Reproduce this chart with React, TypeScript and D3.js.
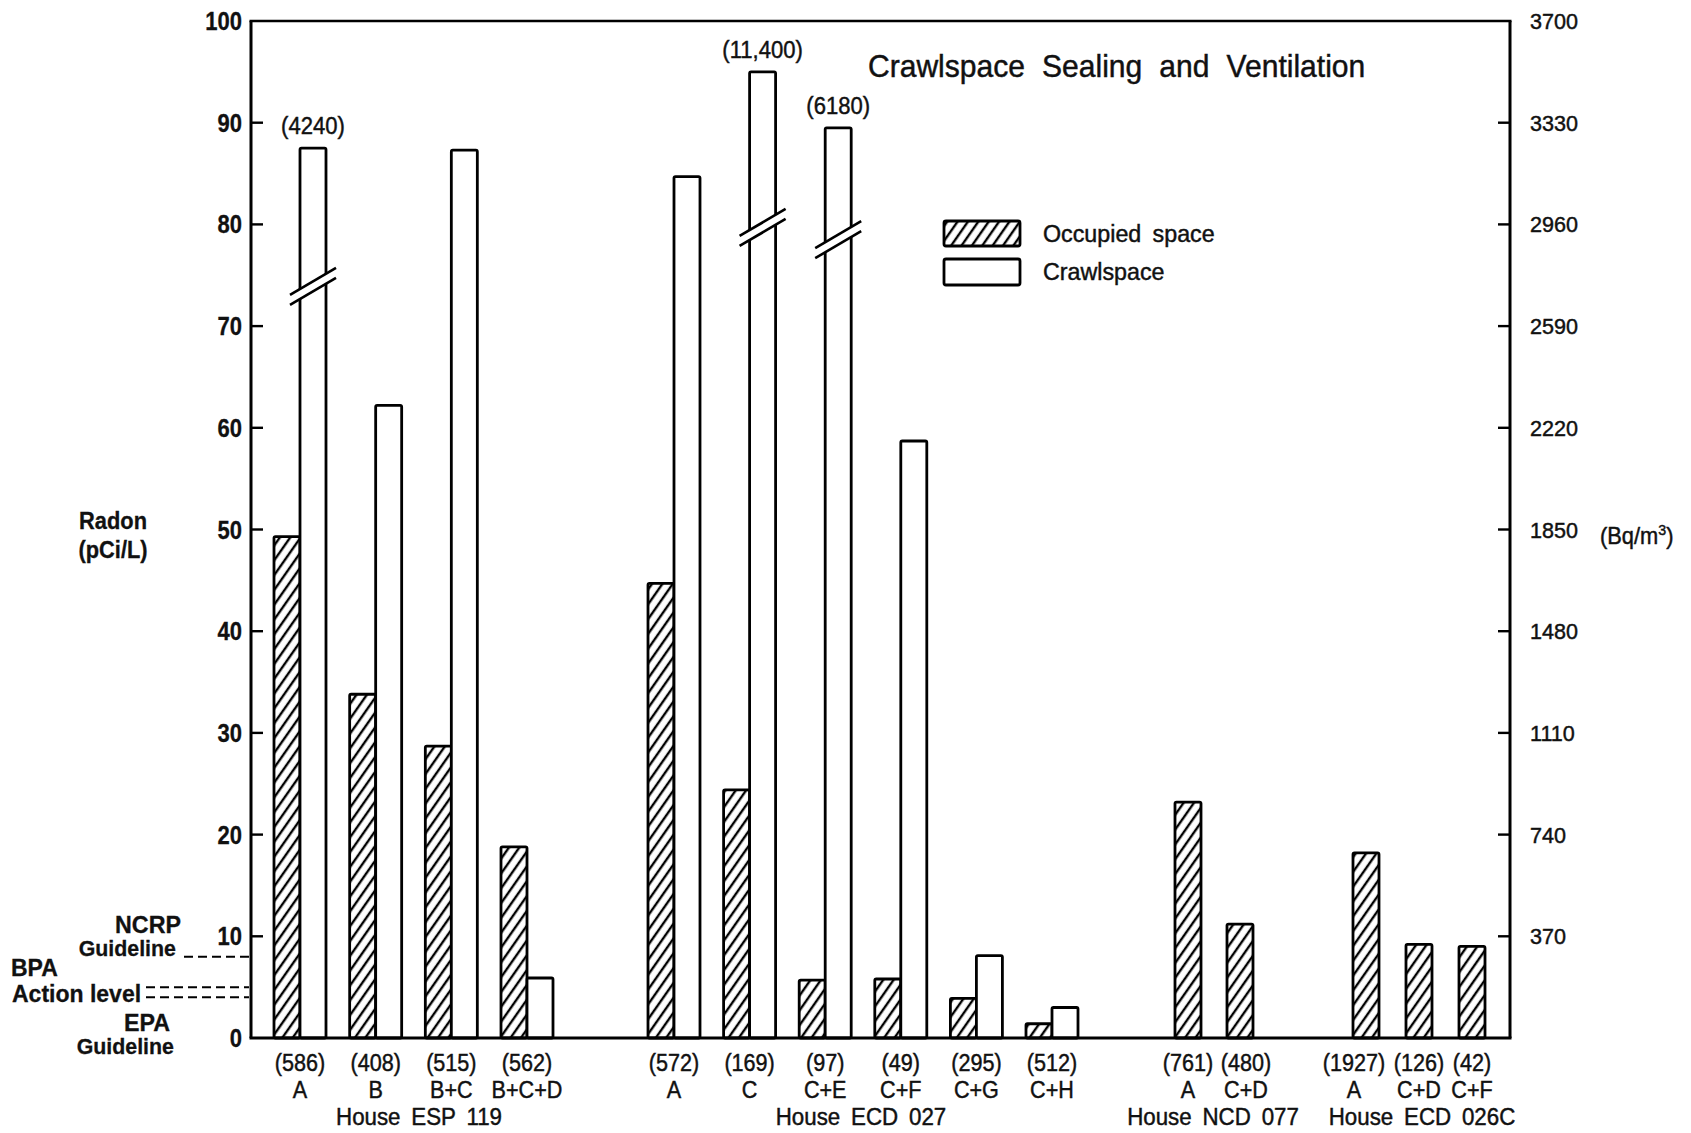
import React from "react";
import * as d3 from "d3";

// ---------- DATA ----------
const groupNames = ["House ESP 119", "House ECD 027", "House NCD 077", "House ECD 026C"];

const espCodes = ["(586)", "(408)", "(515)", "(562)"];
const espTreat = ["A", "B", "B+C", "B+C+D"];
const espOccupied = [49.3, 33.8, 28.7, 18.8];
const espCrawl = [87.5, 62.2, 87.3, 5.9];

const ecd027Codes = ["(572)", "(169)", "(97)", "(49)", "(295)", "(512)"];
const ecd027Treat = ["A", "C", "C+E", "C+F", "C+G", "C+H"];
const ecd027Occupied = [44.7, 24.4, 5.7, 5.8, 3.9, 1.4];
const ecd027Crawl = [84.7, 95.0, 89.5, 58.7, 8.1, 3.0];

const ncdCodes = ["(761)", "(480)"];
const ncdTreat = ["A", "C+D"];
const ncdOccupied = [23.2, 11.2];

const ecd026Codes = ["(1927)", "(126)", "(42)"];
const ecd026Treat = ["A", "C+D", "C+F"];
const ecd026Occupied = [18.2, 9.2, 9.0];

// crawlspace bars drawn with a scale break, actual value in Bq/m3 shown above
const brokenGroups = ["House ESP 119", "House ECD 027", "House ECD 027"];
const brokenTreat = ["A", "C", "C+E"];
const brokenActual = ["(4240)", "(11,400)", "(6180)"];
const brokenAt = [73.9, 79.7, 78.5];

const leftTicks = [0, 10, 20, 30, 40, 50, 60, 70, 80, 90, 100];
const rightTicks = [370, 740, 1110, 1480, 1850, 2220, 2590, 2960, 3330, 3700];

const guidelineValues = [8, 5, 4]; // NCRP, BPA, EPA (pCi/L)

// ---------- LAYOUT ----------
const W = 1691;
const H = 1133;
const X_LEFT = 251;
const X_RIGHT = 1510;
const Y_TOP = 21;
const Y_BASE = 1038;
const BAR_W = 26;
const FONT = "'Liberation Sans', Arial, Helvetica, sans-serif";
const INK = "#111";

const groupRanges: [number, number][] = [
  [300, 527],
  [674, 1052],
  [1188, 1240],
  [1366, 1472],
];
const groupLabelX = [419, 861, 1213, 1422];
// small horizontal nudges of the category labels (as typeset in the original)
const labelNudge: number[][] = [
  [0, 0, 0, 0],
  [0, 0, 0, 0, 0, 0],
  [0, 6],
  [-12, 0, 0],
];

const groups = [
  { name: groupNames[0], codes: espCodes, treat: espTreat, occ: espOccupied, crawl: espCrawl as number[] | null },
  { name: groupNames[1], codes: ecd027Codes, treat: ecd027Treat, occ: ecd027Occupied, crawl: ecd027Crawl as number[] | null },
  { name: groupNames[2], codes: ncdCodes, treat: ncdTreat, occ: ncdOccupied, crawl: null },
  { name: groupNames[3], codes: ecd026Codes, treat: ecd026Treat, occ: ecd026Occupied, crawl: null },
];

function CText(props: {
  x: number;
  y: number;
  sx?: number;
  size: number;
  anchor?: "start" | "middle" | "end";
  bold?: boolean;
  ws?: number;
  children: React.ReactNode;
}) {
  const { x, y, sx = 0.9, size, anchor = "start", bold = false, ws = 0, children } = props;
  return (
    <text
      transform={`translate(${x},${y}) scale(${sx},1)`}
      textAnchor={anchor}
      fontFamily={FONT}
      fontSize={size}
      fontWeight={bold ? "bold" : "normal"}
      wordSpacing={ws}
      fill={INK}
      stroke={INK}
      strokeWidth={bold ? 0.3 : 0.45}
    >
      {children}
    </text>
  );
}

export default function App() {
  const y = d3.scaleLinear().domain([0, 100]).range([Y_BASE, Y_TOP]);
  const yBq = d3.scaleLinear().domain([0, 3700]).range([Y_BASE, Y_TOP]);

  const scales = groups.map((g, i) =>
    d3.scalePoint<string>().domain(g.treat).range(groupRanges[i])
  );

  const bars: React.ReactNode[] = [];
  const labels: React.ReactNode[] = [];
  const breaks: React.ReactNode[] = [];

  groups.forEach((g, gi) => {
    const xs = scales[gi];
    const paired = g.crawl !== null;
    g.treat.forEach((t, i) => {
      const cx = xs(t) as number;
      const hx = paired ? cx - BAR_W : cx - BAR_W / 2;
      const hv = g.occ[i];
      bars.push(
        <rect
          key={`h-${gi}-${i}`}
          x={hx}
          y={y(hv)}
          width={BAR_W}
          height={y(0) - y(hv)}
          fill="url(#hatch)"
          stroke="#000"
          strokeWidth={2.8}
          rx={1.5}
        />
      );
      if (paired && g.crawl) {
        const cv = g.crawl[i];
        bars.push(
          <rect
            key={`c-${gi}-${i}`}
            x={cx}
            y={y(cv)}
            width={BAR_W}
            height={y(0) - y(cv)}
            fill="#fff"
            stroke="#000"
            strokeWidth={2.8}
            rx={1.5}
          />
        );
        const bi = brokenGroups.findIndex((bg, k) => bg === g.name && brokenTreat[k] === t);
        if (bi >= 0) {
          const bcx = cx + BAR_W / 2;
          const by = y(brokenAt[bi]);
          const k = 0.587;
          const half = 23;
          const gap = 5;
          const x0 = cx - 3;
          const x1 = cx + BAR_W + 3;
          const yl = (x: number, off: number) => by + off - k * (x - bcx);
          breaks.push(
            <g key={`b-${bi}`}>
              <polygon
                points={`${x0},${yl(x0, -gap)} ${x1},${yl(x1, -gap)} ${x1},${yl(x1, gap)} ${x0},${yl(x0, gap)}`}
                fill="#fff"
              />
              <line x1={bcx - half} y1={yl(bcx - half, -gap)} x2={bcx + half} y2={yl(bcx + half, -gap)} stroke="#000" strokeWidth={2.6} />
              <line x1={bcx - half} y1={yl(bcx - half, gap)} x2={bcx + half} y2={yl(bcx + half, gap)} stroke="#000" strokeWidth={2.6} />
              <CText x={bcx} y={y(cv) - 14} size={24} sx={0.92} anchor="middle">
                {brokenActual[bi]}
              </CText>
            </g>
          );
        }
      }
      const lx = cx + labelNudge[gi][i];
      labels.push(
        <g key={`l-${gi}-${i}`}>
          <CText x={lx} y={Y_BASE + 33} size={24} anchor="middle">{g.codes[i]}</CText>
          <CText x={lx} y={Y_BASE + 60} size={24} anchor="middle">{t}</CText>
        </g>
      );
    });
    labels.push(
      <CText key={`g-${gi}`} x={groupLabelX[gi]} y={Y_BASE + 87} size={24} sx={0.93} anchor="middle" ws={5}>
        {g.name}
      </CText>
    );
  });

  return (
    <div style={{ position: "absolute", left: 0, top: 0 }}>
      <svg width={W} height={H} viewBox={`0 0 ${W} ${H}`} style={{ display: "block", background: "#fff" }}>
        <defs>
          <pattern id="hatch" patternUnits="userSpaceOnUse" width={8.5} height={8.5} patternTransform="rotate(35)">
            <rect width={8.5} height={8.5} fill="#fff" />
            <line x1={2} y1={0} x2={2} y2={8.5} stroke="#000" strokeWidth={2.4} />
          </pattern>
        </defs>

        {/* title */}
        <CText x={868} y={77} size={31} sx={0.97} ws={9}>
          Crawlspace Sealing and Ventilation
        </CText>

        {/* legend */}
        <rect x={944} y={221} width={76} height={25} fill="url(#hatch)" stroke="#000" strokeWidth={2.8} rx={2} />
        <CText x={1043} y={242} size={24} sx={0.97} ws={5}>Occupied space</CText>
        <rect x={944} y={259} width={76} height={26} fill="#fff" stroke="#000" strokeWidth={2.8} rx={2} />
        <CText x={1043} y={280} size={24} sx={0.97}>Crawlspace</CText>

        {/* bars */}
        {bars}
        {breaks}

        {/* axes frame */}
        <line x1={X_LEFT} y1={Y_TOP} x2={X_LEFT} y2={Y_BASE} stroke="#000" strokeWidth={3} />
        <line x1={X_RIGHT} y1={Y_TOP} x2={X_RIGHT} y2={Y_BASE} stroke="#000" strokeWidth={3} />
        <line x1={X_LEFT - 1.5} y1={Y_TOP} x2={X_RIGHT + 1.5} y2={Y_TOP} stroke="#000" strokeWidth={2.4} />
        <line x1={X_LEFT - 1.5} y1={Y_BASE} x2={X_RIGHT + 1.5} y2={Y_BASE} stroke="#000" strokeWidth={3} />

        {/* left ticks */}
        {leftTicks.map((v) => (
          <g key={`lt-${v}`}>
            {v > 0 && v < 100 && (
              <line x1={X_LEFT} y1={y(v)} x2={X_LEFT + 12} y2={y(v)} stroke="#000" strokeWidth={2.4} />
            )}
            <CText x={242} y={y(v) + 9} size={25} sx={0.88} anchor="end" bold>
              {v}
            </CText>
          </g>
        ))}

        {/* right ticks */}
        {rightTicks.map((v) => (
          <g key={`rt-${v}`}>
            {v < 3700 && (
              <line x1={X_RIGHT - 12} y1={yBq(v)} x2={X_RIGHT} y2={yBq(v)} stroke="#000" strokeWidth={2.4} />
            )}
            <CText x={1530} y={yBq(v) + 8} size={22} sx={0.98}>
              {v}
            </CText>
          </g>
        ))}

        {/* axis titles */}
        <CText x={113} y={529} size={23} sx={0.95} anchor="middle" bold>Radon</CText>
        <CText x={113} y={558} size={23} sx={0.95} anchor="middle" bold>(pCi/L)</CText>
        <CText x={1600} y={544} size={23} sx={0.95}>
          (Bq/m<tspan dy={-9} fontSize={15}>3</tspan><tspan dy={9}>)</tspan>
        </CText>

        {/* guideline annotations */}
        <CText x={181} y={933} size={24} sx={0.97} anchor="end" bold>NCRP</CText>
        <CText x={176} y={956} size={23} sx={0.93} anchor="end" bold>Guideline</CText>
        <CText x={11} y={976} size={23} sx={1} bold>BPA</CText>
        <CText x={12} y={1002} size={23} sx={1} bold>Action level</CText>
        <CText x={170} y={1031} size={24} sx={0.97} anchor="end" bold>EPA</CText>
        <CText x={174} y={1054} size={23} sx={0.93} anchor="end" bold>Guideline</CText>

        <line x1={184} y1={y(guidelineValues[0])} x2={X_LEFT - 2} y2={y(guidelineValues[0])} stroke="#000" strokeWidth={2} strokeDasharray="9 5" />
        <line x1={146} y1={y(guidelineValues[1])} x2={X_LEFT - 2} y2={y(guidelineValues[1])} stroke="#000" strokeWidth={2} strokeDasharray="9 5" />
        <line x1={146} y1={y(guidelineValues[2])} x2={X_LEFT - 2} y2={y(guidelineValues[2])} stroke="#000" strokeWidth={2} strokeDasharray="9 5" />

        {/* category labels */}
        {labels}
      </svg>
    </div>
  );
}
